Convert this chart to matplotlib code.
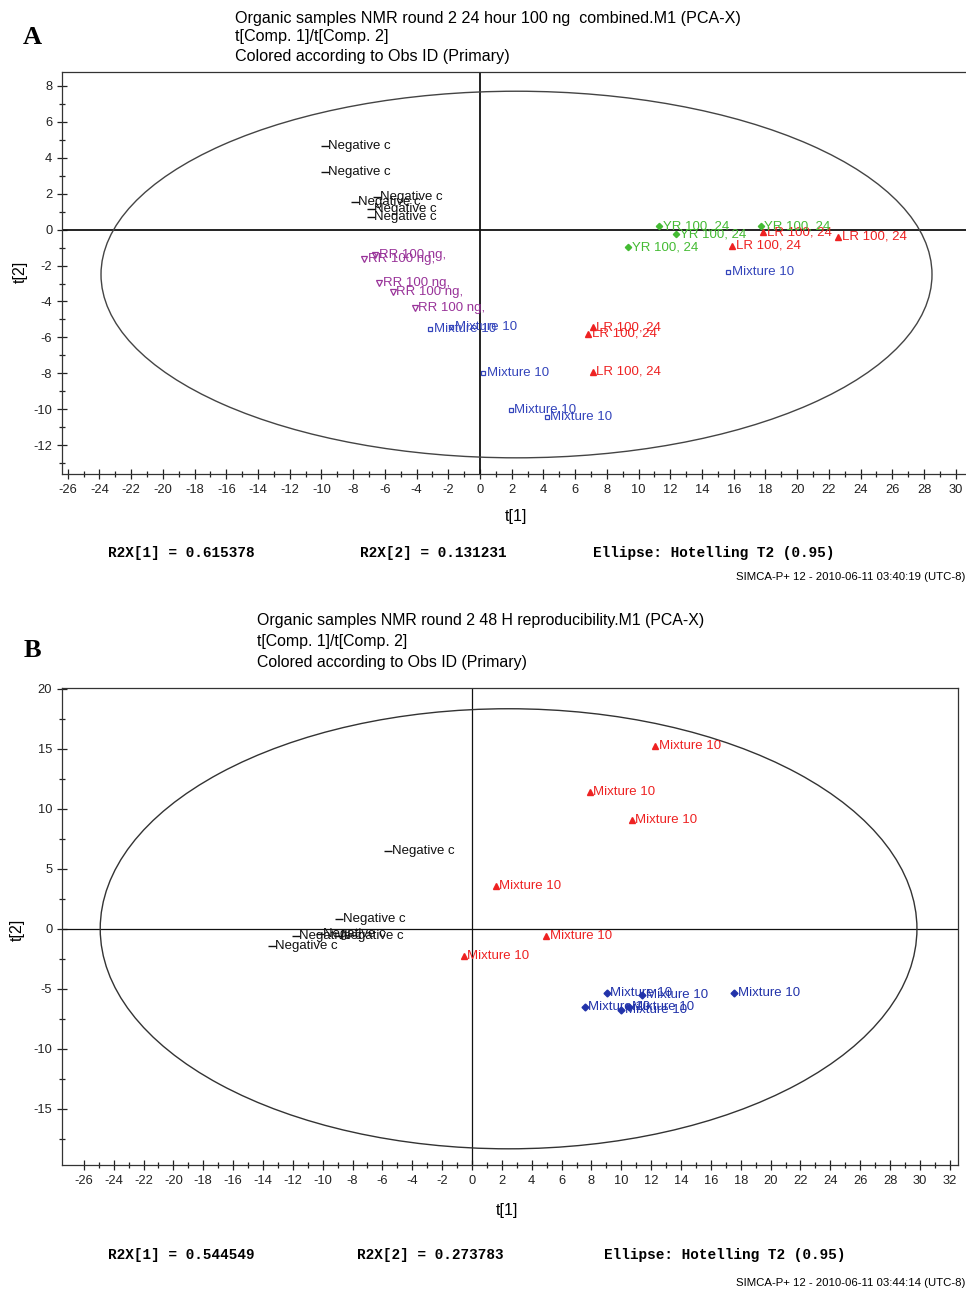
import numpy as np
import matplotlib
matplotlib.use("Agg")
import matplotlib.pyplot as plt
from matplotlib.patches import Ellipse

plt.rcParams['font.family'] = ['Liberation Sans', 'DejaVu Sans']
plt.rcParams['axes.unicode_minus'] = False  # guion corto como en SIMCA

# ---- Datos panel A (24 h, 100 ng) ----
neg_a_x = [-9.8, -9.8, -6.5, -7.9, -6.9, -6.9]
neg_a_y = [4.66, 3.2, 1.8, 1.52, 1.13, 0.69]
rr_a_x = [-7.3, -6.6, -6.35, -5.5, -4.1]
rr_a_y = [-1.65, -1.4, -2.96, -3.5, -4.35]
mix_a_x = [-3.15, -1.8, 0.2, 1.95, 4.2, 15.65]
mix_a_y = [-5.54, -5.4, -8.0, -10.05, -10.45, -2.38]
lr_a_x = [17.87, 22.6, 15.9, 7.1, 6.83, 7.1]
lr_a_y = [-0.15, -0.39, -0.9, -5.44, -5.8, -7.9]
yr_a_x = [11.3, 12.36, 9.35, 17.7]
yr_a_y = [0.2, -0.26, -0.99, 0.2]

# ---- Datos panel B (48 H reproducibilidad) ----
neg_b_x = [-5.6, -8.9, -11.8, -10.2, -9.0, -13.4]
neg_b_y = [6.5, 0.81, -0.58, -0.45, -0.6, -1.47]
mixr_b_x = [12.26, 7.9, 10.7, 1.6, 4.96, -0.54]
mixr_b_y = [15.25, 11.44, 9.08, 3.6, -0.58, -2.3]
mixb_b_x = [9.02, 11.4, 17.55, 7.57, 10.0, 10.5]
mixb_b_y = [-5.36, -5.5, -5.36, -6.56, -6.75, -6.56]

# ---- Elipses Hotelling T2 (centro x, centro y, ancho, alto) ----
elipse_a = (2.3, -2.5, 52.4, 20.4)
elipse_b = (2.45, 0.0, 54.7, 36.7)

titulo_a = ["Organic samples NMR round 2 24 hour 100 ng  combined.M1 (PCA-X)",
            "t[Comp. 1]/t[Comp. 2]",
            "Colored according to Obs ID (Primary)"]
titulo_b = ["Organic samples NMR round 2 48 H reproducibility.M1 (PCA-X)",
            "t[Comp. 1]/t[Comp. 2]",
            "Colored according to Obs ID (Primary)"]
pie_a = ["R2X[1] = 0.615378", "R2X[2] = 0.131231", "Ellipse: Hotelling T2 (0.95)"]
pie_b = ["R2X[1] = 0.544549", "R2X[2] = 0.273783", "Ellipse: Hotelling T2 (0.95)"]
sello_a = "SIMCA-P+ 12 - 2010-06-11 03:40:19 (UTC-8)"
sello_b = "SIMCA-P+ 12 - 2010-06-11 03:44:14 (UTC-8)"

W, H = 966, 1291
fig = plt.figure(figsize=(W / 100, H / 100), dpi=100)


def fx(px):  # pixel -> fraccion de figura
    return px / W


def fy(py):
    return 1 - py / H


def caja(l, t, r, b):  # rectangulo en pixeles
    return [fx(l), fy(b), (r - l) / W, (b - t) / H]


def grupo(ax, xs, ys, texto, color, marca, ms, lleno=True):
    ax.plot(xs, ys, linestyle='none', marker=marca, ms=ms, color=color,
            mfc=color if lleno else 'none', mew=1.0 if lleno else 0.9, zorder=4)
    for x, y in zip(xs, ys):
        ax.annotate(texto, (x, y), xytext=(2.5, 0), textcoords='offset points',
                    va='center', ha='left', fontsize=9.5, color=color, zorder=5)


def estilo(ax, xlim, ylim, xt, yt, ymin, lw0):
    ax.set_xlim(*xlim)
    ax.set_ylim(*ylim)
    ax.set_xticks(xt)
    ax.set_xticks(np.arange(xt[0], xt[-1] + 1, 1), minor=True)
    ax.set_yticks(yt)
    ax.set_yticks(ymin, minor=True)
    ax.tick_params(which='both', direction='inout', labelsize=9.3, colors='#222222',
                   width=0.9, top=False, right=False)
    ax.tick_params(which='major', length=7)
    ax.tick_params(which='minor', length=5)
    for s in ax.spines.values():
        s.set_color('#333333')
        s.set_linewidth(0.9)
    ax.axhline(0, color='#111111', lw=lw0, zorder=2)
    ax.axvline(0, color='#111111', lw=lw0, zorder=2)


# ================= Panel A =================
ax1 = fig.add_axes(caja(62, 72, 968, 474))
estilo(ax1, (-26.36, 30.77), (-13.6, 8.77), np.arange(-26, 31, 2),
       np.arange(-12, 9, 2), np.arange(-13, 9, 1), 1.3)
cx, cy, ew, eh = elipse_a
ax1.add_patch(Ellipse((cx, cy), ew, eh, fill=False, ec='#444444', lw=1.0, zorder=3))
grupo(ax1, neg_a_x, neg_a_y, "Negative c", '#111111', '_', 6)
grupo(ax1, rr_a_x, rr_a_y, "RR 100 ng,", '#993399', 'v', 4.5, lleno=False)
grupo(ax1, mix_a_x, mix_a_y, "Mixture 10", '#3344bb', 's', 3.5, lleno=False)
grupo(ax1, lr_a_x, lr_a_y, "LR 100, 24", '#ee2222', '^', 4)
grupo(ax1, yr_a_x, yr_a_y, "YR 100, 24", '#44bb33', 'D', 3.2)

# ================= Panel B =================
ax2 = fig.add_axes(caja(62, 688, 958, 1165))
estilo(ax2, (-27.46, 32.55), (-19.7, 20.08), np.arange(-26, 33, 2),
       np.arange(-15, 21, 5), np.arange(-17.5, 20, 2.5), 0.9)
cx, cy, ew, eh = elipse_b
ax2.add_patch(Ellipse((cx, cy), ew, eh, fill=False, ec='#333333', lw=1.0, zorder=3))
grupo(ax2, neg_b_x, neg_b_y, "Negative c", '#111111', '_', 6)
grupo(ax2, mixr_b_x, mixr_b_y, "Mixture 10", '#ee2222', '^', 4)
grupo(ax2, mixb_b_x, mixb_b_y, "Mixture 10", '#2233aa', 'D', 3.5)

# ================= Textos =================
for i, linea in enumerate(titulo_a):
    fig.text(fx(235), fy(18 + 19 * i), linea, fontsize=11.6, va='center', ha='left')
for i, linea in enumerate(titulo_b):
    fig.text(fx(257), fy(620 + 21.5 * i), linea, fontsize=11.4, va='center', ha='left')

fig.text(fx(32), fy(37), "A", fontsize=19, fontweight='bold', family='Liberation Serif',
         va='center', ha='center')
fig.text(fx(32), fy(650), "B", fontsize=19, fontweight='bold', family='Liberation Serif',
         va='center', ha='center')

fig.text(fx(20), fy(272), "t[2]", fontsize=11.5, rotation=90, va='center', ha='center')
fig.text(fx(17), fy(930), "t[2]", fontsize=11.5, rotation=90, va='center', ha='center')
fig.text(fx(516), fy(516), "t[1]", fontsize=11.5, va='center', ha='center')
fig.text(fx(507), fy(1210), "t[1]", fontsize=11.5, va='center', ha='center')

for x, t in zip([108, 360, 593], pie_a):
    fig.text(fx(x), fy(553), t, fontsize=10.4, family='Liberation Mono', fontweight='bold',
             va='center', ha='left')
for x, t in zip([108, 357, 604], pie_b):
    fig.text(fx(x), fy(1255), t, fontsize=10.4, family='Liberation Mono', fontweight='bold',
             va='center', ha='left')
fig.text(fx(965), fy(577), sello_a, fontsize=8.2, va='center', ha='right')
fig.text(fx(965), fy(1283), sello_b, fontsize=8.2, va='center', ha='right')

fig.savefig("out.png", dpi=100)
